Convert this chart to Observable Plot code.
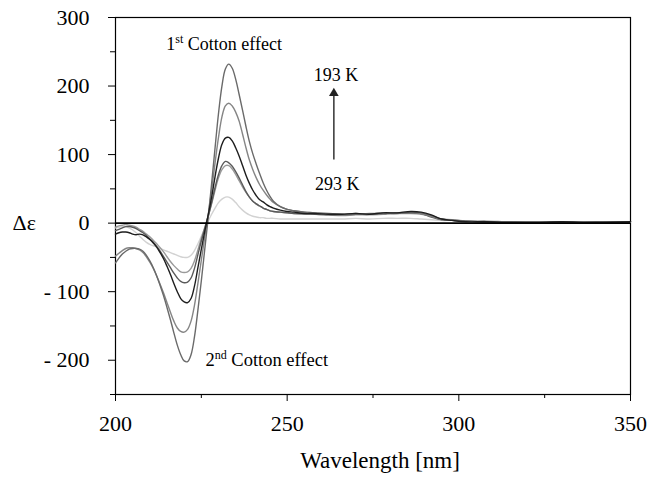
<!DOCTYPE html>
<html><head><meta charset="utf-8">
<script src="https://cdn.jsdelivr.net/npm/d3@7"></script>
<script src="https://cdn.jsdelivr.net/npm/@observablehq/plot@0.6"></script>
<style>
body{margin:0;background:#fff}
#chart{width:648px;height:490px}
</style>
</head><body><div id="chart"></div>
<script>
const wavelength = [200,201,202,203,204,205,206,207,208,209,
210,211,212,213,214,215,216,217,218,219,
220,221,222,223,224,225,226,227,228,229,
230,231,232,233,234,235,236,237,238,239,
240,241,242,243,244,245,246,248,250,252,
255,258,262,266,270,274,278,282,286,289,
292,295,298,302,308,315,322,330,340,350];

const s193 = [-58,-51,-45,-41,-38,-37,-37,-38,-41,-47,
-55,-65,-77,-91,-106,-123,-141,-160,-178,-192,
-201,-202,-192,-166,-127,-84,-38,8,58,110,
160,200,225,232,226,210,188,165,141,119,
101,86,72,59,48,39,32,24,20,18,
16,15,14,13,14,13,15,14,16,15,
11,6,4,3,2,2,1,1,1,2];

const s213 = [-48,-44,-40,-37,-36,-36,-37,-39,-43,-49,
-57,-66,-77,-89,-102,-116,-130,-143,-153,-158,
-159,-155,-143,-120,-88,-54,-20,12,48,88,
125,155,171,175,171,162,149,130,110,92,
78,66,56,48,41,35,30,24,20,18,
16,15,13,12,13,14,14,15,16,14,
10,5,5,3,3,2,2,2,1,2];

const s233 = [-16,-14,-13,-13,-14,-16,-17,-16,-17,-20,
-24,-29,-35,-43,-52,-63,-75,-88,-100,-110,
-115,-116,-110,-92,-65,-38,-12,12,38,68,
95,115,124,125,120,110,98,84,70,58,
48,40,34,31,27,24,22,19,17,16,
14,14,13,13,14,13,15,15,17,16,
12,6,4,2,2,1,1,2,1,2];

const s253 = [-11,-9,-7,-5,-5,-6,-8,-11,-14,-18,
-23,-28,-34,-41,-49,-57,-65,-73,-80,-85,
-87,-86,-80,-66,-46,-26,-8,10,30,52,
71,84,90,88,83,75,66,56,46,38,
32,28,25,22,20,18,17,16,15,14,
14,13,12,12,13,13,14,15,15,14,
9,5,4,3,2,2,2,1,2,2];

const s273 = [-6,-4,-3,-2,-3,-4,-6,-9,-12,-16,
-20,-25,-30,-36,-42,-49,-56,-62,-67,-71,
-72,-71,-66,-55,-39,-22,-6,10,28,48,
66,78,84,84,79,71,62,53,45,38,
32,28,25,22,20,18,17,16,15,14,
13,13,12,11,12,12,13,14,14,13,
10,6,5,3,2,2,1,1,1,2];

const s293 = [-7,-6,-5,-5,-7,-10,-14,-19,-24,-28,
-31,-33,-35,-37,-39,-41,-43,-45,-47,-49,
-50,-50,-47,-40,-30,-19,-8,3,13,22,
30,35,38,38,35,30,24,19,15,12,
10,9,8,8,7,7,7,6,6,6,
6,6,6,6,7,6,7,7,7,6,
5,4,4,3,2,2,1,1,1,2];

const seriesNames = ["293 K","273 K","253 K","213 K","193 K","233 K"];
const seriesValues = [s293, s273, s253, s213, s193, s233];
const seriesColors = ["#d2d2d2","#9a9a9a","#5a5a5a","#858585","#6a6a6a","#1e1e1e"];

const xTicks = [200,250,300,350];
const xMinorTicks = [225,275,325];
const yTicks = [-200,-100,0,100,200,300];
const yMinorTicks = [-250,-150,-50,50,150,250];

const rows = seriesNames.map((name, i) =>
  wavelength.map((w, j) => ({series: name, w, v: seriesValues[i][j]})));

const serif = "Liberation Serif, Times New Roman, serif";

const plot = Plot.plot({
  width: 648, height: 490,
  marginLeft: 115, marginRight: 18, marginTop: 17, marginBottom: 96,
  style: {fontFamily: serif, fontSize: "22px", background: "#fff", color: "#000"},
  x: {domain: [200, 350]},
  y: {domain: [-250, 300]},
  marks: [
    Plot.frame({stroke: "#000", strokeWidth: 1.2}),
    Plot.axisX({ticks: xTicks, tickSize: 7, tickPadding: 14, label: null, fontSize: 22, tickFormat: d => String(d)}),
    Plot.axisX({ticks: xMinorTicks, tickSize: 4, text: null, label: null}),
    Plot.axisY({ticks: yTicks, tickSize: 7, tickPadding: 19, label: null, fontSize: 22,
      tickFormat: d => d < 0 ? "- " + Math.abs(d) : String(d)}),
    Plot.axisY({ticks: yMinorTicks, tickSize: 5, text: null, label: null}),
    ...rows.map((r, i) => Plot.line(r, {x: "w", y: "v", stroke: seriesColors[i], strokeWidth: 1.4, curve: "catmull-rom"})),
    Plot.ruleY([0], {stroke: "#000", strokeWidth: 1.6}),
    Plot.text(["Δε"], {x: 200, y: 0, dx: -103, textAnchor: "start", fontSize: 22}),
    Plot.text(["Wavelength [nm]"], {frameAnchor: "bottom", dy: 73, dx: 7, fontSize: 23}),
    Plot.text(["1st Cotton effect"], {x: 214.8, y: 261, textAnchor: "start", fontSize: 18}),
    Plot.text(["2nd Cotton effect"], {x: 226.2, y: -200, textAnchor: "start", fontSize: 18.5}),
    Plot.text(["193 K"], {x: 264.2, y: 216, fontSize: 18}),
    Plot.text(["293 K"], {x: 264.6, y: 57, fontSize: 18}),
    Plot.link([0], {x1: 263.6, y1: 93, x2: 263.6, y2: 186, stroke: "#333", strokeWidth: 1.5}),
    Plot.dot([0], {x: 263.6, y: 189.5, symbol: "triangle", r: 3.6, fill: "#222", stroke: "none"})
  ]
});

d3.select(plot).selectAll("text").attr("font-family", "Liberation Serif").each(function() {
  const t = this.textContent;
  const m = t.match(/^(\d)(st|nd) (Cotton effect)$/);
  if (m) {
    const s = d3.select(this);
    s.text(null);
    s.append("tspan").text(m[1]);
    s.append("tspan").attr("dy", -7).attr("font-size", 12).text(m[2]);
    s.append("tspan").attr("dy", 7).text(" " + m[3]);
  }
});

document.getElementById("chart").appendChild(plot);
</script></body></html>
